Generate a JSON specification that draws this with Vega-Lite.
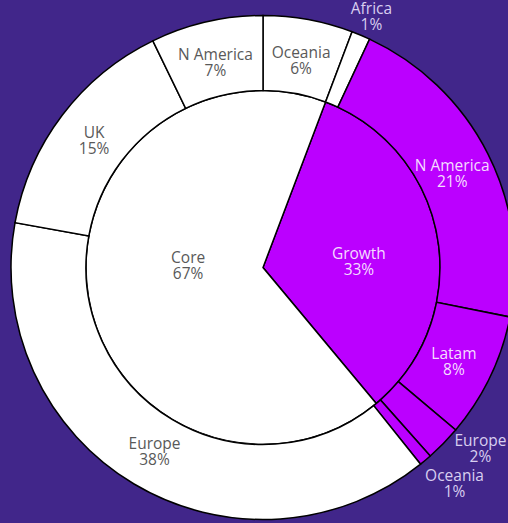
{
  "$schema": "https://vega.github.io/schema/vega-lite/v6.json",
  "width": 490,
  "height": 511,
  "autosize": {"type": "none"},
  "padding": {"left": 18, "top": 12, "right": 0, "bottom": 0},
  "background": "#41268a",
  "config": {"view": {"stroke": null}, "text": {"font": "Open Sans", "fontWeight": "normal", "fontSize": 15.5, "lineBreak": "\n", "lineHeight": 16, "align": "center", "baseline": "middle"}},
  "layer": [
    {
      "data": {"values": [
        {"group": "Growth", "value": 33.2, "idx": 1, "label": "Growth\n33%"},
        {"group": "Core", "value": 66.8, "idx": 2, "label": "Core\n67%"}
      ]},
      "encoding": {
        "theta": {"field": "value", "type": "quantitative", "stack": true, "scale": {"range": [0.3613, 6.6445]}},
        "order": {"field": "idx", "type": "quantitative"}
      },
      "layer": [
        {"mark": {"type": "arc", "outerRadius": 177, "stroke": "#000000", "strokeWidth": 1.5},
         "encoding": {"color": {"field": "group", "type": "nominal", "scale": {"domain": ["Core", "Growth"], "range": ["#ffffff", "#bb00ff"]}, "legend": null}}},
        {"mark": {"type": "text", "radius": 80, "dx": 4, "dy": -23, "color": "#595959"},
         "encoding": {
           "text": {"condition": {"test": "datum.group === 'Core'", "field": "label"}, "value": ""},
           "size": {"condition": {"test": "datum.group === 'Core'", "value": 15.5}, "value": 0}}},
        {"mark": {"type": "text", "radius": 80, "dx": 17, "dy": 0, "color": "#f5dcff"},
         "encoding": {
           "text": {"condition": {"test": "datum.group === 'Growth'", "field": "label"}, "value": ""},
           "size": {"condition": {"test": "datum.group === 'Growth'", "value": 15.5}, "value": 0}}}
      ]
    },
    {
      "data": {"values": [
        {"name": "Oceania", "group": "Core", "value": 5.75, "idx": 1, "label": "Oceania\n6%"},
        {"name": "Africa", "group": "Core", "value": 1.2, "idx": 2, "label": "Africa\n1%"},
        {"name": "N America", "group": "Growth", "value": 21.2, "idx": 3, "label": "N America\n21%"},
        {"name": "Latam", "group": "Growth", "value": 8.0, "idx": 4, "label": "Latam\n8%"},
        {"name": "Europe", "group": "Growth", "value": 2.3, "idx": 5, "label": "Europe\n2%"},
        {"name": "Oceania", "group": "Growth", "value": 0.8, "idx": 6, "label": "Oceania\n1%"},
        {"name": "Europe", "group": "Core", "value": 38.6, "idx": 7, "label": "Europe\n38%"},
        {"name": "UK", "group": "Core", "value": 14.95, "idx": 8, "label": "UK\n15%"},
        {"name": "N America", "group": "Core", "value": 7.2, "idx": 9, "label": "N America\n7%"}
      ]},
      "encoding": {
        "theta": {"field": "value", "type": "quantitative", "stack": true},
        "order": {"field": "idx", "type": "quantitative"}
      },
      "layer": [
        {"mark": {"type": "arc", "innerRadius": 177, "outerRadius": 252, "stroke": "#000000", "strokeWidth": 1.5},
         "encoding": {"color": {"field": "group", "type": "nominal", "scale": {"domain": ["Core", "Growth"], "range": ["#ffffff", "#bb00ff"]}, "legend": null}}},
        {"mark": {"type": "text", "radius": 212, "dy": -6},
         "encoding": {
           "text": {"condition": {"test": "datum.value >= 3", "field": "label"}, "value": ""},
           "size": {"condition": {"test": "datum.value >= 3", "value": 15.5}, "value": 0},
           "color": {"condition": {"test": "datum.group === 'Growth'", "value": "#f5dcff"}, "value": "#595959"}}},
        {"mark": {"type": "text", "radius": 274, "dx": 2, "dy": -6, "color": "#d8cff0"},
         "encoding": {
           "text": {"condition": {"test": "datum.idx === 2", "field": "label"}, "value": ""},
           "size": {"condition": {"test": "datum.idx === 2", "value": 15.5}, "value": 0}}},
        {"mark": {"type": "text", "radius": 280, "dx": 17, "dy": -22, "color": "#d8cff0"},
         "encoding": {
           "text": {"condition": {"test": "datum.idx === 5", "field": "label"}, "value": ""},
           "size": {"condition": {"test": "datum.idx === 5", "value": 15.5}, "value": 0}}},
        {"mark": {"type": "text", "radius": 280, "dx": 11, "dy": -6, "color": "#d8cff0"},
         "encoding": {
           "text": {"condition": {"test": "datum.idx === 6", "field": "label"}, "value": ""},
           "size": {"condition": {"test": "datum.idx === 6", "value": 15.5}, "value": 0}}}
      ]
    }
  ],
  "resolve": {"scale": {"theta": "independent"}}
}
